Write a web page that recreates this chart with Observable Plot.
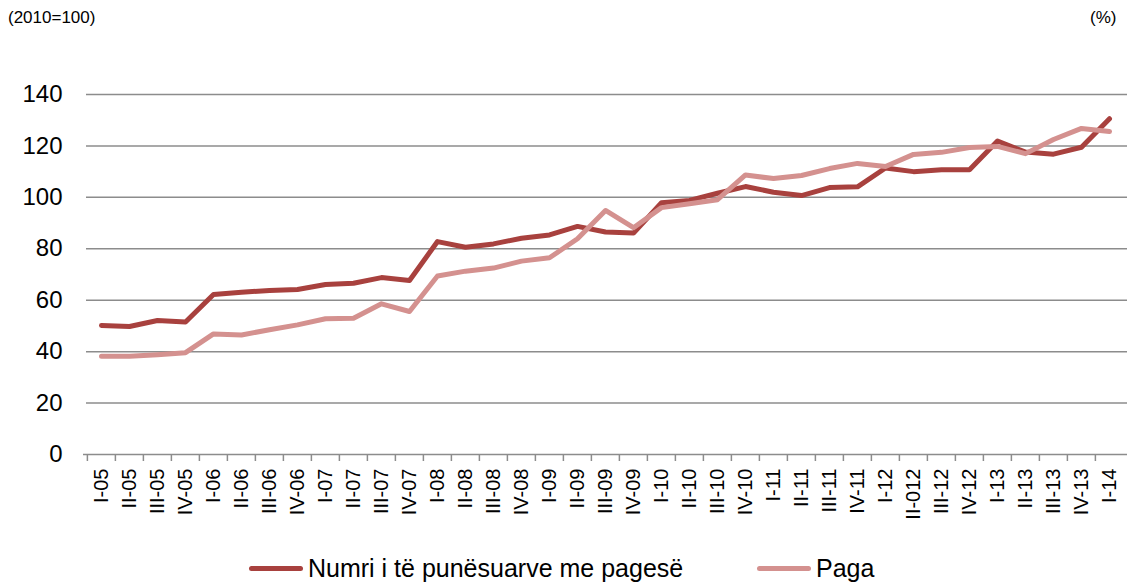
<!DOCTYPE html>
<html>
<head>
<meta charset="utf-8">
<script src="https://cdn.jsdelivr.net/npm/d3@7"></script>
<script src="https://cdn.jsdelivr.net/npm/@observablehq/plot@0.6"></script>
<style>
  body { margin: 0; background: #fff; font-family: "Liberation Sans", Arial, sans-serif; }
  #wrap { position: relative; width: 1127px; height: 587px; overflow: hidden; }
  .note { position: absolute; top: 8px; font-size: 17px; color: #000; }
  #legend { position: absolute; top: 551px; left: 0; width: 1127px; height: 34px; font-size: 25px; color: #000; }
  .item { position: absolute; top: 0; display: flex; align-items: center; height: 34px; }
  .sw { display: inline-block; width: 54px; height: 5px; border-radius: 3px; margin-right: 5px; }
  svg { display: block; }
</style>
</head>
<body>
<div id="wrap">
  <div class="note" style="left:8px">(2010=100)</div>
  <div class="note" style="left:1090px">(%)</div>
  <div id="chart"></div>
  <div id="legend"></div>
</div>
<script>
const categories = ["I-05","II-05","III-05","IV-05","I-06","II-06","III-06","IV-06","I-07","II-07","III-07","IV-07","I-08","II-08","III-08","IV-08","I-09","II-09","III-09","IV-09","I-10","II-10","III-10","IV-10","I-11","II-11","III-11","IV-11","I-12","II-012","III-12","IV-12","I-13","II-13","III-13","IV-13","I-14"];
const numri = [50.2,49.8,52.1,51.5,62.2,63.1,63.8,64.2,66.1,66.6,68.8,67.7,82.8,80.6,81.9,84.1,85.4,88.7,86.5,86.1,97.9,98.8,101.6,104.2,102.0,100.7,103.8,104.1,111.4,110.0,110.7,110.7,121.9,117.6,116.8,119.5,130.6];
const paga = [38.2,38.2,38.8,39.6,46.9,46.5,48.5,50.4,52.8,53.0,58.6,55.6,69.4,71.3,72.5,75.2,76.5,83.9,94.9,88.2,96.0,97.5,99.1,108.7,107.3,108.5,111.2,113.2,112.0,116.7,117.5,119.4,119.8,117.0,122.5,126.8,125.6];
const seriesNames = ["Numri i të punësuarve me pagesë", "Paga"];
const seriesColors = ["#a8413e", "#d4918f"];
const yTicks = [0,20,40,60,80,100,120,140];

const rows = [];
categories.forEach((c, i) => {
  rows.push({cat: c, value: numri[i], series: seriesNames[0]});
  rows.push({cat: c, value: paga[i], series: seriesNames[1]});
});

const W = 1127, ML = 83, MR = 0;
const step = (W - ML - MR) / categories.length;
const grid = "#8c8c8c";

const chart = Plot.plot({
  width: W,
  height: 540,
  marginLeft: ML,
  marginRight: MR,
  marginTop: 94,
  marginBottom: 86,
  style: {fontFamily: '"Liberation Sans", Arial, sans-serif', color: "#000", background: "#fff"},
  x: {type: "point", domain: categories, padding: 0.5, align: 0.5},
  y: {domain: [0, 140]},
  color: {domain: seriesNames, range: seriesColors},
  marks: [
    Plot.ruleY(yTicks.filter(d => d > 0), {stroke: grid, strokeWidth: 1.5, insetLeft: 3}),
    Plot.ruleY([0], {stroke: grid, strokeWidth: 1.5}),
    Plot.ruleX(categories, {x: d => d, y1: 0, y2: 0, insetBottom: -7, dx: -step / 2, stroke: grid, strokeWidth: 1.5}),
    Plot.axisY({ticks: yTicks, tickSize: 0, tickPadding: 21, fontSize: 24, tickFormat: d => String(d), label: null}),
    Plot.axisX({tickSize: 0, tickPadding: 14, tickRotate: -90, fontSize: 20, label: null}),
    Plot.line(rows, {x: "cat", y: "value", z: "series", stroke: "series", strokeWidth: 5, strokeLinejoin: "round", strokeLinecap: "round"})
  ]
});
document.getElementById("chart").appendChild(chart);

const legend = document.getElementById("legend");
const lefts = [249, 757];
seriesNames.forEach((name, i) => {
  const item = document.createElement("div");
  item.className = "item";
  item.style.left = lefts[i] + "px";
  const sw = document.createElement("span");
  sw.className = "sw";
  sw.style.background = seriesColors[i];
  const t = document.createElement("span");
  t.textContent = name;
  item.appendChild(sw);
  item.appendChild(t);
  legend.appendChild(item);
});
</script>
</body>
</html>
